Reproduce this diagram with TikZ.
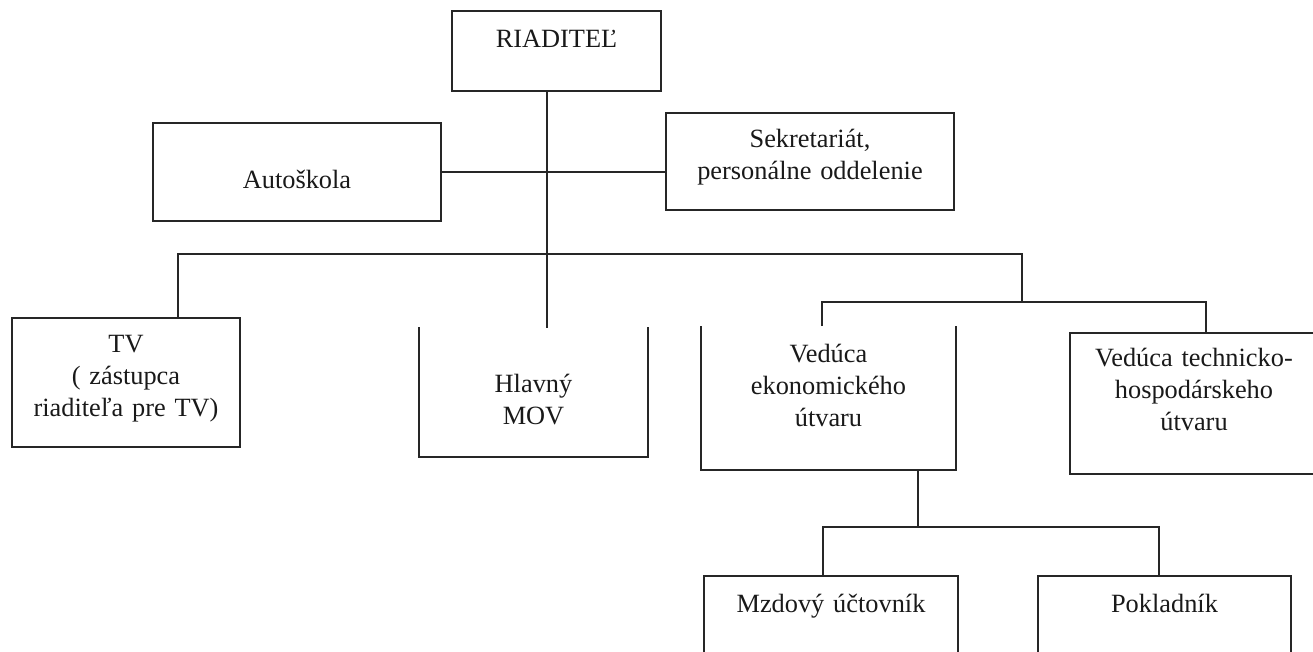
\documentclass[tikz,border=0pt]{standalone}
\usepackage{fontspec}
\setmainfont{Liberation Serif}
\usetikzlibrary{positioning}

\begin{document}
\begin{tikzpicture} [x=0.02cm,y=-0.02cm,line width=1.1pt,draw=black!85,
    font=\fontsize{15}{18}\selectfont,
    unit/.style={rectangle, anchor=north, align=center, inner sep=0pt, text=black!90},
    box/.style={unit, draw}]

  \useasboundingbox (0,0) rectangle (1313,652);
  \clip (0,0) rectangle (1313,652);

  \node[box, text width=4.18cm, text height=0.74cm, text depth=0.86cm] (riad) at (556.5,10) {RIADITEĽ};
  \node[box, text width=5.76cm, text height=1.32cm, text depth=0.64cm] (auto) at (297,122) {Autoškola};
  \node[box, text width=5.76cm, text height=0.70cm, text depth=1.24cm] (sekr) at (810,112) {Sekretariát,\\ personálne oddelenie};
  \node[box, text width=4.56cm, text height=0.70cm, text depth=1.88cm] (tv) at (126,317) {TV\\ ( zástupca\\ riaditeľa pre TV)};
  \node[unit, text width=4.54cm, text height=1.30cm, text depth=1.26cm] (mov) at (533.5,327) {Hlavný\\ MOV};
  \node[unit, text width=5.06cm, text height=0.72cm, text depth=2.12cm] (ekon) at (828.5,326) {Vedúca\\ ekonomického\\ útvaru};
  \node[box, text width=4.96cm, text height=0.68cm, text depth=2.14cm] (tech) at (1194,332) {Vedúca technicko-\\ hospodárskeho\\ útvaru};
  \node[box, text width=5.08cm, text height=0.74cm, text depth=1.80cm] (mzd) at (831,575) {Mzdový účtovník};
  \node[box, text width=5.06cm, text height=0.74cm, text depth=1.80cm] (pokl) at (1164.5,575) {Pokladník};

  \draw (mov.north west) -- (mov.south west) -- (mov.south east) -- (mov.north east);
  \draw (ekon.north west) -- (ekon.south west) -- (ekon.south east) -- (ekon.north east);

  \coordinate (trunk) at (547,328);
  \coordinate (bus west) at (178,254);
  \coordinate (bus east) at (1022,254);
  \coordinate (fork west) at (822,302);
  \coordinate (fork east) at (1206,302);
  \coordinate (drop) at (918,527);
  \coordinate (pay west) at (823,527);
  \coordinate (pay east) at (1159,527);

  \draw (riad.south -| trunk) -- (trunk);
  \draw (auto.east) -- (auto.east -| sekr.west);
  \draw (tv.north -| bus west) -- (bus west) -- (bus east) -- (bus east |- fork west);
  \draw (ekon.north -| fork west) -- (fork west) -- (fork east) -- (tech.north -| fork east);
  \draw (ekon.south -| drop) -- (drop);
  \draw (mzd.north -| pay west) -- (pay west) -- (pay east) -- (pokl.north -| pay east);

\end{tikzpicture}
\end{document}
